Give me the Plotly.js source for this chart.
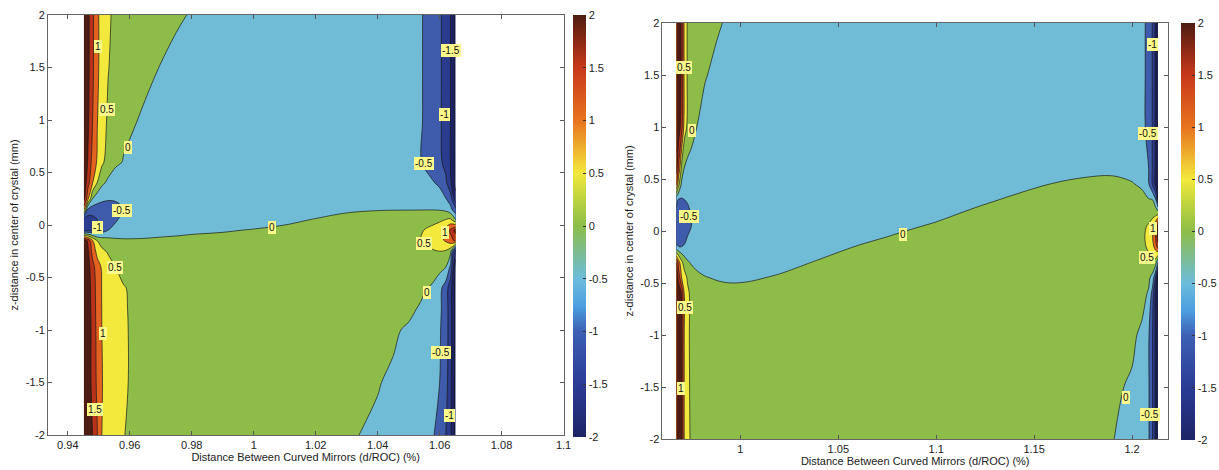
<!DOCTYPE html>
<html><head><meta charset="utf-8">
<script src="https://cdn.plot.ly/plotly-3.0.1.min.js"></script>
<style>html,body{margin:0;padding:0;background:#fff}#chart{width:1219px;height:470px}</style>
</head><body><div id="chart"></div>
<script>
// ---------- DATA: left panel ----------
const leftX = [0.9452, 0.9465, 0.948, 0.9495, 0.951, 0.953, 0.9555, 0.958, 0.961, 0.965, 0.97, 0.975, 0.98, 0.99, 1.0, 1.01, 1.02, 1.03, 1.04, 1.045, 1.05, 1.054, 1.057, 1.06, 1.062, 1.0635, 1.0652];
const leftY = [2, 1.5, 1, 0.6, 0.4, 0.25, 0.15, 0.05, -0.05, -0.15, -0.25, -0.4, -0.6, -0.8, -1, -1.5, -2];
const leftZ = [
 [2.6, 2.15, 1.6, 1.1, 0.8, 0.55, 0.42, 0.34, 0.27, 0.18, 0.1, 0.04, -0.02, -0.12, -0.2, -0.25, -0.28, -0.3, -0.33, -0.37, -0.42, -0.48, -0.6, -0.92, -1.2, -1.5, -2.2],
 [2.6, 2.15, 1.6, 1.1, 0.8, 0.52, 0.35, 0.25, 0.17, 0.08, -0.01, -0.08, -0.13, -0.2, -0.25, -0.28, -0.3, -0.32, -0.35, -0.38, -0.42, -0.48, -0.6, -0.92, -1.2, -1.5, -2.2],
 [2.6, 2.1, 1.5, 1.02, 0.72, 0.43, 0.22, 0.1, 0.03, -0.05, -0.12, -0.17, -0.21, -0.26, -0.29, -0.31, -0.32, -0.33, -0.35, -0.38, -0.42, -0.48, -0.6, -0.92, -1.2, -1.5, -2.2],
 [2.5, 1.95, 1.3, 0.95, 0.6, 0.3, 0.08, -0.02, -0.08, -0.15, -0.22, -0.27, -0.3, -0.34, -0.36, -0.37, -0.37, -0.37, -0.38, -0.4, -0.43, -0.49, -0.62, -0.9, -1.15, -1.5, -2.2],
 [2.4, 1.7, 1.0, 0.48, 0.1, -0.1, -0.25, -0.33, -0.38, -0.41, -0.42, -0.42, -0.42, -0.42, -0.41, -0.4, -0.39, -0.38, -0.37, -0.37, -0.38, -0.4, -0.45, -0.55, -0.9, -1.4, -2.2],
 [2.2, 1.1, 0.0, -0.3, -0.42, -0.47, -0.47, -0.45, -0.44, -0.44, -0.43, -0.43, -0.42, -0.41, -0.39, -0.37, -0.35, -0.33, -0.31, -0.3, -0.3, -0.31, -0.33, -0.38, -0.48, -0.75, -1.8],
 [1.2, -0.55, -0.75, -0.72, -0.68, -0.64, -0.58, -0.5, -0.42, -0.36, -0.31, -0.27, -0.24, -0.2, -0.18, -0.17, -0.15, -0.08, -0.03, -0.02, -0.02, -0.02, -0.02, -0.04, -0.12, -0.35, -0.9],
 [-1.3, -1.3, -1.15, -1.0, -0.88, -0.75, -0.55, -0.35, -0.25, -0.22, -0.2, -0.18, -0.17, -0.16, -0.15, -0.08, 0.02, 0.15, 0.2, 0.2, 0.22, 0.25, 0.3, 0.38, 0.52, 0.6, 0.0],
 [-1.2, -1.1, -1.02, -0.9, -0.72, -0.5, -0.35, -0.3, -0.25, -0.2, -0.15, -0.12, -0.08, -0.03, 0.02, 0.08, 0.15, 0.2, 0.22, 0.24, 0.3, 0.45, 0.62, 0.9, 1.2, 1.6, 2.2],
 [2.4, 1.9, 1.05, 0.5, 0.3, 0.2, 0.1, 0.07, 0.06, 0.06, 0.08, 0.1, 0.12, 0.12, 0.15, 0.18, 0.2, 0.22, 0.24, 0.27, 0.32, 0.5, 0.7, 0.85, 1.05, 1.3, 1.6],
 [2.5, 2.1, 1.3, 0.85, 0.6, 0.45, 0.35, 0.3, 0.28, 0.27, 0.27, 0.27, 0.27, 0.27, 0.27, 0.28, 0.28, 0.28, 0.28, 0.28, 0.3, 0.33, 0.42, 0.5, 0.45, 0.15, -1.8],
 [2.6, 2.2, 1.7, 1.2, 0.95, 0.7, 0.49, 0.4, 0.35, 0.32, 0.3, 0.3, 0.3, 0.3, 0.3, 0.3, 0.3, 0.3, 0.3, 0.3, 0.3, 0.28, 0.25, 0.15, 0.0, -0.6, -2.2],
 [2.6, 2.25, 1.8, 1.3, 0.98, 0.8, 0.62, 0.52, 0.45, 0.4, 0.37, 0.35, 0.34, 0.33, 0.32, 0.31, 0.3, 0.28, 0.25, 0.2, 0.13, 0.05, -0.03, -0.35, -0.75, -1.3, -2.2],
 [2.6, 2.28, 1.82, 1.32, 0.99, 0.81, 0.64, 0.53, 0.46, 0.41, 0.37, 0.35, 0.34, 0.32, 0.3, 0.27, 0.24, 0.2, 0.16, 0.11, 0.05, -0.03, -0.15, -0.4, -0.75, -1.3, -2.2],
 [2.6, 2.3, 1.85, 1.35, 1.0, 0.82, 0.65, 0.54, 0.46, 0.41, 0.37, 0.35, 0.33, 0.3, 0.27, 0.23, 0.18, 0.12, 0.06, 0.03, -0.03, -0.15, -0.28, -0.45, -0.75, -1.3, -2.2],
 [2.6, 2.3, 1.85, 1.4, 1.02, 0.82, 0.65, 0.54, 0.46, 0.4, 0.36, 0.32, 0.29, 0.24, 0.2, 0.15, 0.1, 0.05, 0.01, -0.03, -0.1, -0.2, -0.32, -0.5, -0.8, -1.35, -2.2],
 [2.7, 2.35, 2.0, 1.52, 1.0, 0.82, 0.63, 0.51, 0.44, 0.38, 0.33, 0.28, 0.24, 0.17, 0.12, 0.08, 0.05, 0.02, -0.03, -0.08, -0.15, -0.25, -0.4, -0.65, -1.0, -1.4, -2.2]
];
const leftLabelX = [0.9497, 0.9526, 0.9593, 0.9574, 0.9497, 1.006, 0.9551, 0.9513, 0.9487, 1.0636, 1.0617, 1.0549, 1.0617, 1.0549, 1.0559, 1.0604, 1.0633];
const leftLabelY = [1.70, 1.10, 0.74, 0.135, -0.02, -0.02, -0.40, -1.03, -1.76, 1.66, 1.05, 0.59, -0.07, -0.18, -0.64, -1.21, -1.81];
const leftLabelText = ['1', '0.5', '0', '-0.5', '-1', '0', '0.5', '1', '1.5', '-1.5', '-1', '-0.5', '1', '0.5', '0', '-0.5', '-1'];
const leftXTicks = [0.94, 0.96, 0.98, 1, 1.02, 1.04, 1.06, 1.08, 1.1];
const leftXTickText = ['0.94', '0.96', '0.98', '1', '1.02', '1.04', '1.06', '1.08', '1.1'];

// ---------- DATA: right panel ----------
const rightX = [0.9673, 0.9685, 0.970, 0.9715, 0.973, 0.975, 0.978, 0.982, 0.988, 0.995, 1.005, 1.02, 1.04, 1.06, 1.08, 1.1, 1.12, 1.14, 1.16, 1.175, 1.19, 1.2, 1.205, 1.2085, 1.2105, 1.212, 1.2133];
const rightY = [2, 1.5, 1, 0.6, 0.45, 0.3, 0.15, 0.05, -0.05, -0.15, -0.3, -0.45, -0.6, -1, -1.5, -2];
const rightZ = [
 [2.6, 2.4, 1.9, 0.8, 0.45, 0.35, 0.25, 0.15, 0.04, -0.06, -0.15, -0.22, -0.27, -0.3, -0.31, -0.32, -0.32, -0.32, -0.33, -0.34, -0.36, -0.4, -0.45, -0.55, -1.05, -1.6, -2.3],
 [2.6, 2.4, 1.9, 0.8, 0.45, 0.3, 0.15, 0.02, -0.08, -0.15, -0.22, -0.27, -0.3, -0.32, -0.33, -0.33, -0.33, -0.33, -0.34, -0.35, -0.37, -0.4, -0.45, -0.55, -1.05, -1.6, -2.3],
 [2.6, 2.3, 1.7, 0.7, 0.42, 0.22, -0.01, -0.12, -0.2, -0.26, -0.3, -0.33, -0.35, -0.36, -0.36, -0.36, -0.36, -0.36, -0.36, -0.37, -0.38, -0.41, -0.45, -0.55, -1.05, -1.6, -2.3],
 [2.2, 1.4, 0.35, -0.05, -0.15, -0.22, -0.28, -0.32, -0.36, -0.38, -0.4, -0.41, -0.41, -0.4, -0.39, -0.37, -0.32, -0.22, -0.12, -0.07, -0.06, -0.11, -0.3, -0.5, -1.05, -1.6, -2.3],
 [1.6, 0.6, -0.1, -0.25, -0.33, -0.38, -0.42, -0.44, -0.45, -0.46, -0.46, -0.45, -0.43, -0.4, -0.35, -0.29, -0.18, -0.08, 0.01, 0.05, 0.07, 0.02, -0.05, -0.45, -1.05, -1.6, -2.3],
 [-0.4, -0.55, -0.55, -0.5, -0.47, -0.45, -0.44, -0.43, -0.42, -0.41, -0.4, -0.43, -0.42, -0.36, -0.26, -0.17, -0.06, 0.04, 0.12, 0.16, 0.18, 0.15, 0.1, 0.04, 0.0, -0.4, -1.5],
 [-0.6, -0.7, -0.72, -0.68, -0.6, -0.48, -0.4, -0.36, -0.33, -0.31, -0.33, -0.38, -0.34, -0.24, -0.14, -0.05, 0.06, 0.14, 0.2, 0.24, 0.26, 0.27, 0.28, 0.3, 0.35, 0.45, 0.6],
 [-0.65, -0.75, -0.78, -0.72, -0.62, -0.5, -0.4, -0.34, -0.3, -0.3, -0.32, -0.34, -0.26, -0.16, -0.06, 0.03, 0.13, 0.19, 0.23, 0.26, 0.27, 0.3, 0.38, 0.55, 0.9, 1.4, 2.3],
 [-0.6, -0.7, -0.72, -0.65, -0.5, -0.4, -0.33, -0.28, -0.26, -0.26, -0.27, -0.28, -0.18, -0.08, 0.02, 0.11, 0.18, 0.22, 0.25, 0.27, 0.28, 0.32, 0.42, 0.6, 1.0, 1.5, 2.3],
 [-0.45, -0.5, -0.5, -0.45, -0.38, -0.32, -0.26, -0.22, -0.2, -0.2, -0.21, -0.2, -0.1, 0.01, 0.1, 0.18, 0.22, 0.24, 0.26, 0.28, 0.3, 0.35, 0.42, 0.55, 0.85, 1.2, 1.8],
 [2.0, 1.2, 0.6, 0.25, 0.05, -0.05, -0.13, -0.17, -0.19, -0.19, -0.17, -0.09, 0.02, 0.12, 0.19, 0.24, 0.26, 0.27, 0.28, 0.3, 0.31, 0.32, 0.35, 0.42, 0.45, 0.3, -0.5],
 [2.4, 1.8, 1.0, 0.7, 0.45, 0.25, 0.1, 0.02, -0.03, -0.05, -0.03, 0.03, 0.13, 0.2, 0.24, 0.27, 0.28, 0.3, 0.31, 0.32, 0.32, 0.3, 0.22, 0.1, -0.2, -1.0, -2.3],
 [2.7, 2.4, 1.95, 0.85, 0.58, 0.4, 0.27, 0.19, 0.14, 0.1, 0.1, 0.15, 0.2, 0.22, 0.26, 0.28, 0.29, 0.3, 0.31, 0.31, 0.3, 0.25, 0.15, -0.05, -0.7, -1.6, -2.3],
 [2.8, 2.45, 2.05, 0.85, 0.57, 0.42, 0.31, 0.24, 0.2, 0.18, 0.18, 0.19, 0.22, 0.23, 0.25, 0.26, 0.27, 0.27, 0.26, 0.24, 0.18, 0.08, -0.08, -0.45, -1.0, -1.6, -2.3],
 [2.8, 2.45, 2.05, 0.85, 0.58, 0.43, 0.32, 0.26, 0.22, 0.2, 0.2, 0.2, 0.21, 0.22, 0.23, 0.23, 0.22, 0.2, 0.17, 0.12, 0.07, -0.05, -0.15, -0.45, -1.0, -1.6, -2.3],
 [2.8, 2.45, 2.05, 0.85, 0.6, 0.44, 0.33, 0.27, 0.23, 0.21, 0.2, 0.2, 0.2, 0.2, 0.2, 0.19, 0.17, 0.14, 0.1, 0.06, 0.01, -0.1, -0.2, -0.45, -1.0, -1.6, -2.3]
];
const rightLabelX = [0.9714, 0.9755, 0.9740, 1.0832, 0.9719, 0.9699, 1.2107, 1.2082, 1.2107, 1.2077, 1.1969, 1.2092];
const rightLabelY = [1.57, 0.97, 0.135, -0.03, -0.74, -1.51, 1.79, 0.94, 0.02, -0.25, -1.60, -1.76];
const rightLabelText = ['0.5', '0', '-0.5', '0', '0.5', '1', '-1', '-0.5', '1', '0.5', '0', '-0.5'];
const rightXTicks = [1, 1.05, 1.1, 1.15, 1.2];
const rightXTickText = ['1', '1.05', '1.1', '1.15', '1.2'];

// ---------- shared ----------
const yTicks = [-2, -1.5, -1, -0.5, 0, 0.5, 1, 1.5, 2];
const yTickText = ['-2', '-1.5', '-1', '-0.5', '0', '0.5', '1', '1.5', '2'];
const cbarValues = [-2, 2];
const xTitle = 'Distance Between Curved Mirrors (d/ROC) (%)';
const yTitle = 'z-distance in center of crystal (mm)';

// ---------- styles ----------
const FONT = 'Liberation Sans, Arial, Helvetica, sans-serif';
const bandColors = ['#1d2466', '#1d2466', '#2b3b8e', '#3e5cab', '#70bcd7', '#8dbd48', '#f3e83c', '#e4621f', '#b8321a', '#4e1c12'];
const bounds = [0, 0.03, 0.15, 0.27, 0.39, 0.5, 0.61, 0.73, 0.85, 0.97, 1];
const bandScale = [];
for (let k = 0; k < bandColors.length; k++) {
  bandScale.push([bounds[k], bandColors[k]]);
  bandScale.push([bounds[k + 1], bandColors[k]]);
}
const smoothScale = [
  [0, '#1d2466'], [0.125, '#2b3b95'], [0.25, '#3c60b4'], [0.31, '#4c9ee0'],
  [0.375, '#6cbcdc'], [0.5, '#8cbd48'], [0.57, '#c2d63e'], [0.625, '#f3e83c'],
  [0.75, '#e8731f'], [0.875, '#c8381a'], [1, '#4e1c12']
];

function contourTrace(x, y, z, xa, ya) {
  return {
    type: 'contour', x: x, y: y, z: z, xaxis: xa, yaxis: ya,
    zmin: -2, zmax: 2, autocontour: false,
    contours: {start: -2, end: 2, size: 0.5, coloring: 'fill', showlabels: false},
    colorscale: bandScale, showscale: false,
    line: {color: '#1a1a1a', width: 0.7, smoothing: 1},
    hoverinfo: 'skip'
  };
}
function cbarTrace(xa, ya, cbx, cby, cblen, thick) {
  return {
    type: 'scatter', mode: 'markers', x: cbarValues, y: cbarValues, xaxis: xa, yaxis: ya,
    hoverinfo: 'skip',
    marker: {
      size: 1, opacity: 0, color: cbarValues, cmin: -2, cmax: 2, colorscale: smoothScale, showscale: true,
      colorbar: {
        x: cbx, xanchor: 'left', y: cby, yanchor: 'middle', len: cblen, lenmode: 'fraction',
        thickness: thick, thicknessmode: 'pixels', xpad: 0, ypad: 0, outlinewidth: 0,
        tickmode: 'array', tickvals: yTicks, ticktext: yTickText,
        ticks: 'inside', ticklen: 3, tickcolor: '#333', tickfont: {family: FONT, size: 11, color: '#222'}
      }
    }
  };
}
function xAxis(domain, range, tv, tt, anchor) {
  return {
    domain: domain, range: range, anchor: anchor, tickmode: 'array', tickvals: tv, ticktext: tt,
    ticks: 'inside', ticklen: 4, tickcolor: '#555', mirror: 'ticks', showline: true, linecolor: '#666', linewidth: 1,
    showgrid: false, zeroline: false, automargin: false,
    tickfont: {family: FONT, size: 11, color: '#222'},
    title: {text: xTitle, font: {family: FONT, size: 11, color: '#222'}, standoff: 2}
  };
}
function yAxis(domain, anchor) {
  return {
    domain: domain, range: [-2, 2], anchor: anchor, tickmode: 'array', tickvals: yTicks, ticktext: yTickText,
    ticks: 'inside', ticklen: 4, tickcolor: '#555', mirror: 'ticks', showline: true, linecolor: '#666', linewidth: 1,
    showgrid: false, zeroline: false, automargin: false,
    tickfont: {family: FONT, size: 11, color: '#222'},
    title: {text: yTitle, font: {family: FONT, size: 11, color: '#222'}, standoff: 4}
  };
}
function labelAnnots(xs, ys, ts, xr, yr) {
  return xs.map((x, i) => ({
    x: x, y: ys[i], text: ts[i], xref: xr, yref: yr, showarrow: false,
    bgcolor: '#fbf98a', borderpad: 1, borderwidth: 0,
    font: {family: FONT, size: 10, color: '#111'}
  }));
}

const W = 1219, H = 470;
const data = [
  contourTrace(leftX, leftY, leftZ, 'x', 'y'),
  contourTrace(rightX, rightY, rightZ, 'x2', 'y2'),
  cbarTrace('x', 'y', 573 / W, 1 - 226 / H, 422 / H, 13),
  cbarTrace('x2', 'y2', 1181 / W, 1 - 231.5 / H, 417 / H, 14)
];
const layout = {
  width: W, height: H, margin: {l: 0, r: 0, t: 0, b: 0},
  paper_bgcolor: '#ffffff', plot_bgcolor: '#ffffff', showlegend: false,
  font: {family: FONT, size: 11, color: '#222'},
  xaxis: xAxis([48 / W, 564 / W], [0.9336, 1.1], leftXTicks, leftXTickText, 'y'),
  yaxis: yAxis([1 - 435 / H, 1 - 15 / H], 'x'),
  xaxis2: xAxis([663 / W, 1169 / W], [0.9602, 1.2184], rightXTicks, rightXTickText, 'y2'),
  yaxis2: yAxis([1 - 439 / H, 1 - 23 / H], 'x2'),
  annotations: labelAnnots(leftLabelX, leftLabelY, leftLabelText, 'x', 'y')
    .concat(labelAnnots(rightLabelX, rightLabelY, rightLabelText, 'x2', 'y2'))
};
Plotly.newPlot('chart', data, layout, {staticPlot: true, displayModeBar: false});
</script>
</body></html>
